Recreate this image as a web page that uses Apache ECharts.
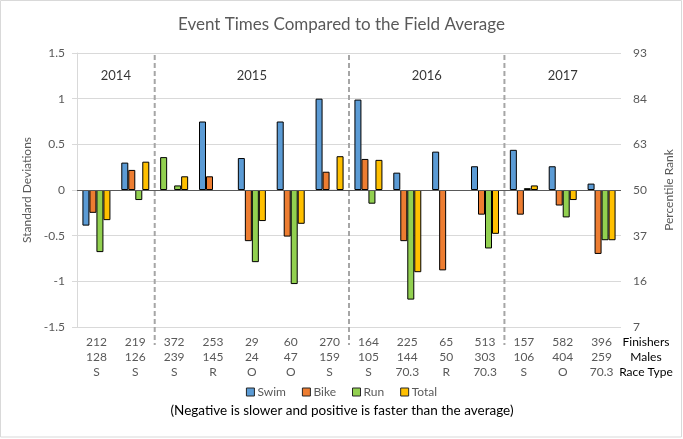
<!DOCTYPE html>
<html>
<head>
<meta charset="utf-8">
<script src="https://cdn.jsdelivr.net/npm/echarts@6/dist/echarts.min.js"></script>
<style>html,body{margin:0;padding:0;background:#fff;}#c{width:683px;height:439px;}</style>
</head>
<body>
<div id="c"></div>
<script>
const finishers = ['212','219','372','253','29','60','270','164','225','65','513','157','582','396'];
const males = ['128','126','239','145','24','47','159','105','144','50','303','106','404','259'];
const raceType = ['S','S','S','R','O','O','S','S','70.3','R','70.3','S','O','70.3'];
const swim  = [-0.39, 0.30, 0.36, 0.75, 0.35, 0.75, 1.00, 0.99, 0.19, 0.42, 0.26, 0.44, 0.26, 0.07];
const bike  = [-0.25, 0.22, -0.01, 0.15, -0.56, -0.51, 0.20, 0.34, -0.56, -0.88, -0.27, -0.27, -0.17, -0.70];
const run   = [-0.68, -0.11, 0.05, null, -0.79, -1.03, -0.01, -0.15, -1.20, null, -0.64, 0.02, -0.30, -0.55];
const total = [-0.33, 0.31, 0.15, null, -0.34, -0.37, 0.37, 0.33, -0.90, null, -0.48, 0.05, -0.11, -0.55];
const percentileTicks = ['7','16','37','50','63','84','93'];
const leftTicks = ['-1.5','-1','-0.5','0','0.5','1','1.5'];
const years = ['2014','2015','2016','2017'];
const yearStart = [0, 2, 7, 11];
const yearEnd = [2, 7, 11, 14];
const seasonDividers = [2, 7, 11];

const FONT = 'Lato';
const categories = finishers.map((f, i) => f + '\n' + males[i] + '\n' + raceType[i]);
const swimOverride = {2: '#92D050'};

function barSeries(name, data, color, extra) {
  return Object.assign({
    name: name, type: 'bar', data: data, barWidth: 7, barGap: '0%',
    itemStyle: {color: color, borderColor: '#000', borderWidth: 1},
    xAxisIndex: 0, yAxisIndex: 0, silent: true
  }, extra || {});
}

const chart = echarts.init(document.getElementById('c'), null, {renderer: 'canvas'});
chart.setOption({
  animation: false,
  textStyle: {fontFamily: FONT},
  title: {
    text: 'Event Times Compared to the Field Average', left: 'center', top: 11,
    textStyle: {fontFamily: FONT, fontSize: 17, fontWeight: 'normal', color: '#595959'}
  },
  legend: {
    data: ['Swim', 'Bike', 'Run', 'Total'], left: 'center', top: 381,
    itemWidth: 8, itemHeight: 8, itemGap: 16, icon: 'rect',
    itemStyle: {borderColor: '#262626', borderWidth: 1},
    textStyle: {fontFamily: FONT, fontSize: 12, color: '#595959', padding: [0, 0, 0, -2]}
  },
  grid: {left: 77, right: 62, top: 53, bottom: 112, containLabel: false},
  xAxis: [{
    type: 'category', data: categories,
    axisLine: {show: false}, axisTick: {show: false},
    axisLabel: {interval: 0, color: '#595959', fontFamily: FONT, fontSize: 12, lineHeight: 15, margin: 8}
  }, {
    type: 'value', min: 0, max: finishers.length, show: false
  }],
  yAxis: [{
    type: 'value', min: -1.5, max: 1.5, interval: 0.5,
    name: 'Standard Deviations', nameLocation: 'middle', nameGap: 31, nameRotate: 90,
    nameTextStyle: {color: '#595959', fontFamily: FONT, fontSize: 12},
    axisLine: {show: true, lineStyle: {color: '#D9D9D9'}},
    axisTick: {show: true, length: 5, lineStyle: {color: '#D9D9D9'}},
    axisLabel: {color: '#595959', fontFamily: FONT, fontSize: 12, margin: 12,
      formatter: v => leftTicks[Math.round((v + 1.5) / 0.5)]},
    splitLine: {lineStyle: {color: '#D9D9D9'}}
  }, {
    type: 'value', min: -1.5, max: 1.5, interval: 0.5, position: 'right',
    name: 'Percentile Rank', nameLocation: 'middle', nameGap: 42, nameRotate: 90,
    nameTextStyle: {color: '#595959', fontFamily: FONT, fontSize: 12},
    axisLine: {show: false}, axisTick: {show: false}, splitLine: {show: false},
    axisLabel: {color: '#595959', fontFamily: FONT, fontSize: 12, margin: 12,
      formatter: v => percentileTicks[Math.round((v + 1.5) / 0.5)]}
  }],
  series: [
    barSeries('Swim', swim.map((v, i) => swimOverride[i] ? {value: v, itemStyle: {color: swimOverride[i]}} : v), '#5B9BD5', {
      markLine: {silent: true, symbol: 'none', label: {show: false},
        lineStyle: {color: '#595959', width: 1, type: 'solid'}, data: [{yAxis: 0}]}
    }),
    barSeries('Bike', bike, '#ED7D31'),
    barSeries('Run', run, '#92D050'),
    barSeries('Total', total, '#FFC000'),
    {
      type: 'custom', xAxisIndex: 1, yAxisIndex: 0, silent: true, clip: false, z: 5,
      data: seasonDividers.map(x => [x, 0]),
      renderItem: function (params, api) {
        const x = api.value(0);
        const top = api.coord([x, 1.5]);
        const bot = api.coord([x, -1.5]);
        return {type: 'line', shape: {x1: top[0], y1: top[1] + 2, x2: bot[0], y2: bot[1] + 18},
          style: {stroke: '#A6A6A6', lineWidth: 2, lineDash: [5, 3]}};
      }
    },
    {
      type: 'scatter', xAxisIndex: 1, yAxisIndex: 0, silent: true, symbolSize: 0,
      data: years.map((y, i) => ({value: [(yearStart[i] + yearEnd[i]) / 2, 1.25], name: y})),
      label: {show: true, position: 'inside', formatter: p => p.name,
        color: '#000', fontFamily: FONT, fontSize: 13}
    }
  ],
  graphic: [
    {type: 'rect', shape: {x: 0.5, y: 0.5, width: 681, height: 436.5},
      style: {fill: 'none', stroke: '#D9D9D9', lineWidth: 1}, silent: true},
    {type: 'text', x: 646, y: 342, style: {text: 'Finishers', fill: '#000', font: '12px Lato', align: 'center', verticalAlign: 'middle'}},
    {type: 'text', x: 646, y: 357, style: {text: 'Males', fill: '#000', font: '12px Lato', align: 'center', verticalAlign: 'middle'}},
    {type: 'text', x: 646, y: 372, style: {text: 'Race Type', fill: '#000', font: '12px Lato', align: 'center', verticalAlign: 'middle'}},
    {type: 'text', x: 342, y: 411, style: {text: '(Negative is slower and positive is faster than the average)', fill: '#000', font: '13.5px Lato', align: 'center', verticalAlign: 'middle'}}
  ]
});
</script>
</body>
</html>
